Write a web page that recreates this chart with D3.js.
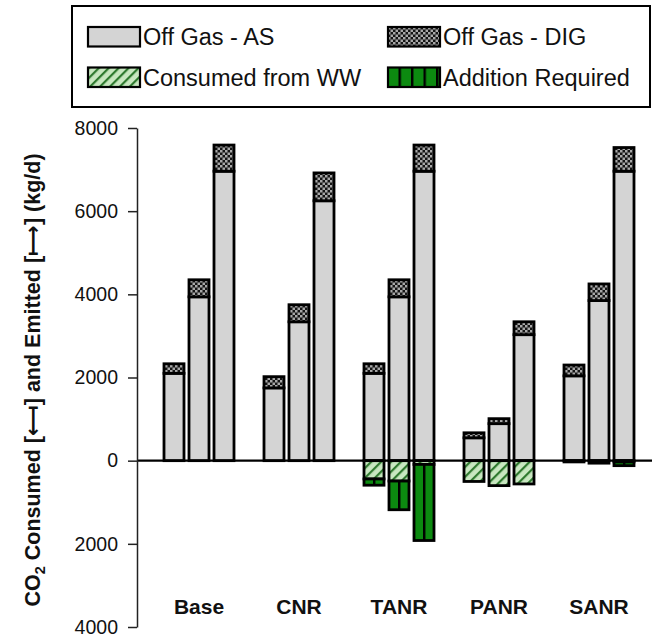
<!DOCTYPE html>
<html>
<head>
<meta charset="utf-8">
<script src="https://cdn.jsdelivr.net/npm/d3@7"></script>
<style>
  html, body { margin: 0; padding: 0; background: #fff; }
  svg { display: block; font-family: "Liberation Sans", Arial, Helvetica, sans-serif; }
</style>
</head>
<body>
<svg id="chart" width="652" height="637"></svg>
<script>
// Scenarios and the three bars drawn within each scenario group
const categories = ["Base", "CNR", "TANR", "PANR", "SANR"];
const subBars = [0, 1, 2];

// Emitted CO2 (kg/d), stacked upward
const offGasAS  = [[2100, 3940, 6960], [1750, 3340, 6250], [2100, 3940, 6960], [550, 890, 3030], [2040, 3850, 6960]];
const offGasDIG = [[230, 410, 630], [270, 410, 670], [230, 410, 630], [120, 120, 310], [260, 400, 570]];

// Consumed CO2 (kg/d), stacked downward
const consumedWW  = [[0, 0, 0], [0, 0, 0], [440, 490, 90], [500, 600, 560], [30, 60, 30]];
const additionReq = [[0, 0, 0], [0, 0, 0], [150, 690, 1830], [0, 0, 0], [0, 0, 90]];

const yTicks = [-4000, -2000, 0, 2000, 4000, 6000, 8000];
const legendLabels = ["Off Gas - AS", "Off Gas - DIG", "Consumed from WW", "Addition Required"];

const svg = d3.select("#chart");
const defs = svg.append("defs");

// Fill patterns
const dig = defs.append("pattern").attr("id", "pat-dig")
  .attr("patternUnits", "userSpaceOnUse").attr("width", 5).attr("height", 5);
dig.append("rect").attr("width", 5).attr("height", 5).attr("fill", "#151515");
dig.append("rect").attr("x", 0).attr("y", 0).attr("width", 2.5).attr("height", 2.5).attr("fill", "#a8a8a8");
dig.append("rect").attr("x", 2.5).attr("y", 2.5).attr("width", 2.5).attr("height", 2.5).attr("fill", "#a8a8a8");

const ww = defs.append("pattern").attr("id", "pat-ww")
  .attr("patternUnits", "userSpaceOnUse").attr("width", 7).attr("height", 7)
  .attr("patternTransform", "rotate(45)");
ww.append("rect").attr("width", 7).attr("height", 7).attr("fill", "#c8e7c0");
ww.append("rect").attr("x", 0).attr("width", 2.2).attr("height", 7).attr("fill", "#2f7a2f");

const add = defs.append("pattern").attr("id", "pat-add")
  .attr("patternUnits", "userSpaceOnUse").attr("x", 423).attr("width", 12.5).attr("height", 10);
add.append("rect").attr("width", 12.5).attr("height", 10).attr("fill", "#0c8a10");
add.append("rect").attr("x", 0).attr("width", 2.4).attr("height", 10).attr("fill", "#000");

const fills = ["#d4d4d4", "url(#pat-dig)", "url(#pat-ww)", "url(#pat-add)"];

// Scales
const x = d3.scaleBand().domain(categories).range([149, 649]).padding(0);
const xi = d3.scaleBand().domain(subBars).range([-37.5, 37.5]).paddingInner(0.2).paddingOuter(0.1);
const y = d3.scaleLinear().domain([-4000, 8000]).range([627, 128]);

// Stacked segments: [start, end] in data units
const segments = [];
categories.forEach((c, ci) => {
  subBars.forEach(b => {
    const a = offGasAS[ci][b], d = offGasDIG[ci][b];
    const w = consumedWW[ci][b], r = additionReq[ci][b];
    segments.push({ c, b, y0: 0, y1: a, k: 0 });
    segments.push({ c, b, y0: a, y1: a + d, k: 1 });
    if (w > 0) segments.push({ c, b, y0: 0, y1: -w, k: 2 });
    if (r > 0) segments.push({ c, b, y0: -w, y1: -w - r, k: 3 });
  });
});

svg.append("g").selectAll("rect").data(segments).join("rect")
  .attr("x", d => x(d.c) + x.bandwidth() / 2 + xi(d.b))
  .attr("width", xi.bandwidth())
  .attr("y", d => y(Math.max(d.y0, d.y1)))
  .attr("height", d => Math.abs(y(d.y0) - y(d.y1)))
  .attr("fill", d => fills[d.k])
  .attr("stroke", "#000")
  .attr("stroke-width", 2.8);

// Zero line
svg.append("line")
  .attr("x1", 137).attr("x2", 652)
  .attr("y1", y(0)).attr("y2", y(0))
  .attr("stroke", "#000").attr("stroke-width", 2.2);

// Y axis with magnitudes on both sides of zero
const yAxis = d3.axisLeft(y).tickValues(yTicks)
  .tickFormat(v => String(Math.abs(v)))
  .tickSize(9).tickSizeOuter(0).tickPadding(10);
const gy = svg.append("g").attr("transform", "translate(137,0)").call(yAxis);
gy.select(".domain").attr("stroke", "#222").attr("stroke-width", 1.5);
gy.selectAll(".tick line").attr("stroke", "#222").attr("stroke-width", 1.5);
gy.selectAll(".tick text").attr("font-size", 19.5).attr("fill", "#111")
  .attr("font-family", "'Liberation Sans', Arial, sans-serif");

// Category labels
svg.append("g").selectAll("text").data(categories).join("text")
  .attr("x", d => x(d) + x.bandwidth() / 2)
  .attr("y", 614)
  .attr("text-anchor", "middle")
  .attr("font-size", 21)
  .attr("font-weight", "bold")
  .attr("fill", "#111")
  .text(d => d);

// Y axis title
const title = svg.append("text")
  .attr("transform", "translate(40,380) rotate(-90)")
  .attr("text-anchor", "middle")
  .attr("font-size", 21.5)
  .attr("font-weight", "bold")
  .attr("fill", "#111");
title.append("tspan").text("CO");
title.append("tspan").attr("font-size", 14.5).attr("dy", 5).text("2");
title.append("tspan").attr("dy", -5).text(" Consumed [");
title.append("tspan").attr("font-family", "DejaVu Sans").text("⟻");
title.append("tspan").text("] and Emitted [");
title.append("tspan").attr("font-family", "DejaVu Sans").text("⟼");
title.append("tspan").text("] (kg/d)");

// Legend
const legend = svg.append("g");
legend.append("rect")
  .attr("x", 72).attr("y", 6).attr("width", 578).attr("height", 101)
  .attr("fill", "#fff").attr("stroke", "#000").attr("stroke-width", 2);
const legendPos = [[88, 27], [388, 27], [88, 67.5], [388, 67.5]];
const items = legend.selectAll("g.item").data(legendLabels).join("g")
  .attr("class", "item")
  .attr("transform", (d, i) => `translate(${legendPos[i][0]},${legendPos[i][1]})`);
items.append("rect")
  .attr("width", 52).attr("height", 19.5)
  .attr("fill", (d, i) => fills[i])
  .attr("stroke", "#000").attr("stroke-width", 2.2);
items.append("text")
  .attr("x", 55).attr("y", 18)
  .attr("font-size", 23.5)
  .attr("fill", "#111")
  .text(d => d);
</script>
</body>
</html>
